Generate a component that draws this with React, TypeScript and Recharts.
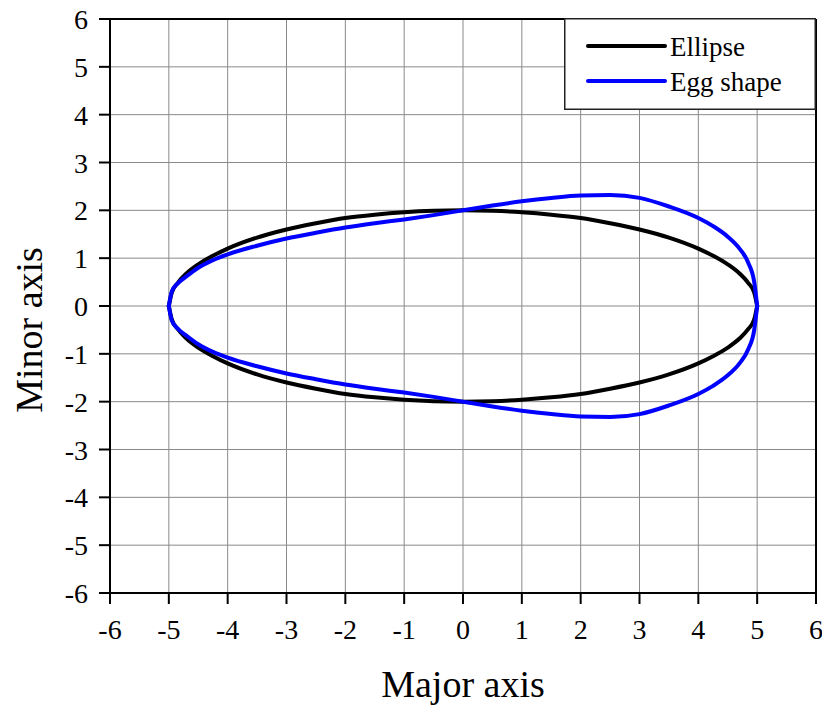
import React from 'react';
import {
  ScatterChart,
  Scatter,
  XAxis,
  YAxis,
  CartesianGrid,
  ReferenceLine,
  Legend,
} from 'recharts';

// Sample positions along the major axis, left to right (both halves use the same positions)
const xSamples = [-5, -4.95, -4.85, -4.7, -4.5, -4.25, -4, -3.5, -3, -2.5, -2, -1.5, -1, -0.5, 0, 0.5, 1, 1.5, 2, 2.5, 3, 3.5, 4, 4.25, 4.5, 4.7, 4.85, 4.95, 5];

// Ellipse outline
const ellipseUpper = [0, 0.28, 0.48, 0.68, 0.87, 1.05, 1.2, 1.43, 1.6, 1.73, 1.84, 1.91, 1.96, 1.99, 2.0, 1.99, 1.96, 1.91, 1.84, 1.73, 1.6, 1.43, 1.2, 1.05, 0.87, 0.68, 0.48, 0.28, 0];
const ellipseLower = [0, -0.28, -0.48, -0.68, -0.87, -1.05, -1.2, -1.43, -1.6, -1.73, -1.84, -1.91, -1.96, -1.99, -2.0, -1.99, -1.96, -1.91, -1.84, -1.73, -1.6, -1.43, -1.2, -1.05, -0.87, -0.68, -0.48, -0.28, 0];

// Egg outline
const eggUpper = [0, 0.3, 0.47, 0.62, 0.8, 0.96, 1.08, 1.26, 1.41, 1.53, 1.64, 1.73, 1.81, 1.9, 2.0, 2.1, 2.19, 2.26, 2.31, 2.32, 2.26, 2.08, 1.84, 1.67, 1.45, 1.2, 0.9, 0.5, 0];
const eggLower = [0, -0.3, -0.47, -0.62, -0.8, -0.96, -1.08, -1.26, -1.41, -1.53, -1.64, -1.73, -1.81, -1.9, -2.0, -2.1, -2.19, -2.26, -2.31, -2.32, -2.26, -2.08, -1.84, -1.67, -1.45, -1.2, -0.9, -0.5, 0];

const axisTicks = [-6, -5, -4, -3, -2, -1, 0, 1, 2, 3, 4, 5, 6];

const SERIES = [
  { name: 'Ellipse', color: '#000000', upper: ellipseUpper, lower: ellipseLower },
  { name: 'Egg shape', color: '#0000ff', upper: eggUpper, lower: eggLower },
];

const toPoints = (ys: number[]) => xSamples.map((x, i) => ({ x, y: ys[i] }));

const SERIF = 'Liberation Serif';

const NoDot = () => <g />;

const XTick = (props: any) => {
  const { x, y, payload } = props;
  return (
    <text x={x} y={y + 33} textAnchor="middle" fontSize={28} fontFamily={SERIF} fill="#000">
      {payload.value}
    </text>
  );
};

const YTick = (props: any) => {
  const { x, y, payload } = props;
  return (
    <text x={x - 9} y={y + 10} textAnchor="end" fontSize={28} fontFamily={SERIF} fill="#000">
      {payload.value}
    </text>
  );
};

const XTitle = (props: any) => {
  const vb = props.viewBox || {};
  return (
    <text
      x={vb.x + vb.width / 2}
      y={vb.y + 104}
      textAnchor="middle"
      fontSize={38}
      fontFamily={SERIF}
      fill="#000"
    >
      Major axis
    </text>
  );
};

const YTitle = (props: any) => {
  const vb = props.viewBox || {};
  const cx = 42;
  const cy = vb.y + vb.height / 2 + 24;
  return (
    <text
      x={cx}
      y={cy}
      transform={`rotate(-90, ${cx}, ${cy})`}
      textAnchor="middle"
      fontSize={38}
      fontFamily={SERIF}
      fill="#000"
    >
      Minor axis
    </text>
  );
};

const LegendBox = () => (
  <svg width={252} height={92} style={{ display: 'block' }}>
    <rect x={0.75} y={0.75} width={250.5} height={90.5} fill="#fff" stroke="#222" strokeWidth={1.5} />
    {SERIES.map((s, i) => (
      <g key={s.name}>
        <line x1={24} x2={101} y1={28 + i * 35} y2={28 + i * 35} stroke={s.color} strokeWidth={4} strokeLinecap="round" />
        <text x={106} y={38 + i * 35} fontSize={27} fontFamily={SERIF} fill="#000">
          {s.name}
        </text>
      </g>
    ))}
  </svg>
);

export default function App() {
  return (
    <div style={{ position: 'absolute', left: 0, top: 0, width: 822, height: 706, background: '#fff', fontFamily: SERIF }}>
      <ScatterChart width={822} height={706} margin={{ top: 19, right: 6, bottom: 0, left: 0 }}>
        <CartesianGrid stroke="#8a8a8a" strokeWidth={1} />
        <XAxis
          type="number"
          dataKey="x"
          domain={[-6, 6]}
          ticks={axisTicks}
          allowDataOverflow
          height={113}
          tickSize={11}
          axisLine={{ stroke: '#000', strokeWidth: 2 }}
          tickLine={{ stroke: '#000', strokeWidth: 2 }}
          tick={<XTick />}
          label={<XTitle />}
        />
        <YAxis
          type="number"
          dataKey="y"
          domain={[-6, 6]}
          ticks={axisTicks}
          allowDataOverflow
          width={110}
          tickSize={11}
          axisLine={{ stroke: '#000', strokeWidth: 2 }}
          tickLine={{ stroke: '#000', strokeWidth: 2 }}
          tick={<YTick />}
          label={<YTitle />}
        />
        <ReferenceLine y={6} stroke="#000" strokeWidth={2} />
        <ReferenceLine x={6} stroke="#000" strokeWidth={2} />
        {SERIES.flatMap((s) => [
          <Scatter
            key={`${s.name}-upper`}
            name={s.name}
            data={toPoints(s.upper)}
            line={{ stroke: s.color, strokeWidth: 4, strokeLinejoin: 'round', strokeLinecap: 'round' }}
            lineJointType="monotoneX"
            shape={NoDot}
            isAnimationActive={false}
          />,
          <Scatter
            key={`${s.name}-lower`}
            name={s.name}
            data={toPoints(s.lower)}
            line={{ stroke: s.color, strokeWidth: 4, strokeLinejoin: 'round', strokeLinecap: 'round' }}
            lineJointType="monotoneX"
            shape={NoDot}
            isAnimationActive={false}
          />,
        ])}
        <Legend
          layout="horizontal"
          align="center"
          verticalAlign="middle"
          content={<LegendBox />}
          wrapperStyle={{ position: 'absolute', left: 564, top: 18, width: 252, height: 92 }}
        />
      </ScatterChart>
    </div>
  );
}
